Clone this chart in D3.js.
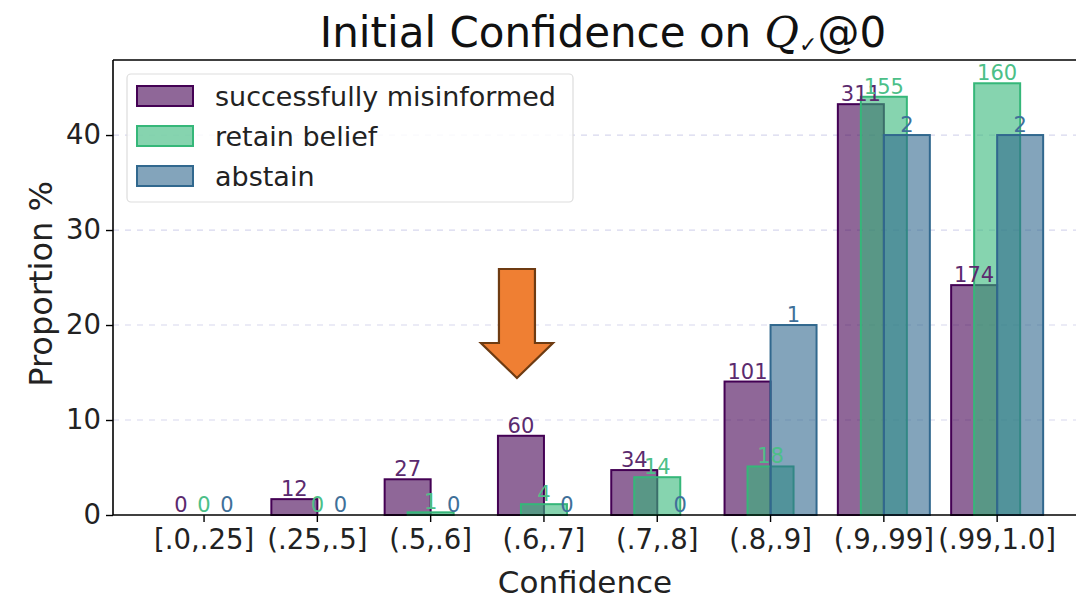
<!DOCTYPE html>
<html>
<head>
<meta charset="utf-8">
<script src="https://cdn.jsdelivr.net/npm/d3@7"></script>
<style>
  body { margin: 0; background: #fff; }
  svg { display: block; font-family: "DejaVu Sans", sans-serif; }
</style>
</head>
<body>
<div id="chart"></div>
<script>
// confidence buckets
const categories = ["[.0,.25]", "(.25,.5]", "(.5,.6]", "(.6,.7]", "(.7,.8]", "(.8,.9]", "(.9,.99]", "(.99,1.0]"];
const seriesNames = ["successfully misinformed", "retain belief", "abstain"];

// counts shown above the bars
const misinformedCounts = [0, 12, 27, 60, 34, 101, 311, 174];
const retainCounts = [0, 0, 1, 4, 14, 18, 155, 160];
const abstainCounts = [0, 0, 0, 0, 0, 1, 2, 2];

// proportion % (bar heights)
const misinformedPct = [0, 1.67, 3.76, 8.34, 4.73, 14.05, 43.25, 24.2];
const retainPct = [0, 0, 0.28, 1.14, 3.98, 5.11, 44.03, 45.45];
const abstainPct = [0, 0, 0, 0, 0, 20, 40, 40];

const yTicks = [0, 10, 20, 30, 40];

const width = 1076, height = 601;
const margin = { top: 60, left: 113, bottom: 86 };

const fills = ["rgba(68,1,84,0.6)", "rgba(53,183,121,0.6)", "rgba(49,104,142,0.6)"];
const strokes = ["#440154", "#35b779", "#31688e"];
const textColors = ["#5b2a6e", "#4cbf88", "#3f7099"];

const series = [
  { name: seriesNames[0], pct: misinformedPct, counts: misinformedCounts, offset: -0.5 },
  { name: seriesNames[1], pct: retainPct, counts: retainCounts, offset: 0 },
  { name: seriesNames[2], pct: abstainPct, counts: abstainCounts, offset: 0.5 }
];

const svg = d3.select("#chart").append("svg")
  .attr("width", width)
  .attr("height", height);

const x = d3.scaleBand()
  .domain(categories)
  .range([147.4, 1053.8]);

const y = d3.scaleLinear()
  .domain([0, 47.9])
  .range([height - margin.bottom, margin.top]);

const barW = 46;

// grid
svg.append("g")
  .selectAll("line")
  .data(yTicks.filter(d => d > 0))
  .join("line")
    .attr("x1", margin.left)
    .attr("x2", width)
    .attr("y1", d => y(d))
    .attr("y2", d => y(d))
    .attr("stroke", "#d8d8ee")
    .attr("stroke-width", 1.2)
    .attr("stroke-dasharray", "6,6");

// bars
series.forEach((s, i) => {
  svg.append("g")
    .selectAll("rect")
    .data(categories)
    .join("rect")
      .attr("x", c => x(c) + x.bandwidth() / 2 + s.offset * barW - barW / 2)
      .attr("y", (c, j) => y(s.pct[j]))
      .attr("width", barW)
      .attr("height", (c, j) => y(0) - y(s.pct[j]))
      .attr("fill", fills[i])
      .attr("stroke", strokes[i])
      .attr("stroke-width", 2);
});

// count labels
series.forEach((s, i) => {
  svg.append("g")
    .selectAll("text")
    .data(categories)
    .join("text")
      .attr("x", c => x(c) + x.bandwidth() / 2 + s.offset * barW)
      .attr("y", (c, j) => y(s.pct[j]) - 3)
      .attr("text-anchor", "middle")
      .attr("font-size", 21)
      .attr("fill", textColors[i])
      .text((c, j) => s.counts[j]);
});

// x axis
const xAxis = svg.append("g")
  .attr("transform", `translate(0,${y(0)})`)
  .call(d3.axisBottom(x).tickSize(7).tickSizeOuter(0));
xAxis.select(".domain").remove();
xAxis.append("line")
  .attr("x1", margin.left).attr("x2", width)
  .attr("stroke", "#000").attr("stroke-width", 1.6);
xAxis.selectAll(".tick line").attr("stroke", "#000").attr("stroke-width", 1.4);
xAxis.selectAll(".tick text")
  .attr("font-size", 27.5)
  .attr("font-family", "DejaVu Sans, sans-serif")
  .attr("fill", "#222")
  .attr("y", 13)
  .attr("dy", "0.76em");

// y axis
const yAxis = svg.append("g")
  .attr("transform", `translate(${margin.left},0)`)
  .call(d3.axisLeft(y).tickValues(yTicks).tickSize(7).tickSizeOuter(0));
yAxis.select(".domain").attr("stroke", "#000").attr("stroke-width", 1.6)
  .attr("d", `M0,${y(0)}V${margin.top}`);
yAxis.selectAll(".tick line").attr("stroke", "#000").attr("stroke-width", 1.4);
yAxis.selectAll(".tick text")
  .attr("font-size", 27.5)
  .attr("font-family", "DejaVu Sans, sans-serif")
  .attr("fill", "#222")
  .attr("x", -12);

// top spine
svg.append("line")
  .attr("x1", margin.left).attr("x2", width)
  .attr("y1", margin.top).attr("y2", margin.top)
  .attr("stroke", "#000").attr("stroke-width", 1.6);

// axis titles
svg.append("text")
  .attr("x", 585).attr("y", 593)
  .attr("text-anchor", "middle")
  .attr("font-size", 31)
  .attr("fill", "#222")
  .text("Confidence");

svg.append("text")
  .attr("transform", `translate(52,284) rotate(-90)`)
  .attr("text-anchor", "middle")
  .attr("font-size", 32)
  .attr("fill", "#222")
  .text("Proportion %");

// title
const title = svg.append("text")
  .attr("x", 603).attr("y", 47)
  .attr("text-anchor", "middle")
  .attr("font-size", 42)
  .attr("fill", "#111");
title.append("tspan").text("Initial Confidence on ");
title.append("tspan").attr("font-family", "DejaVu Serif, serif").attr("font-style", "italic").text("Q");
title.append("tspan").attr("font-size", 22).attr("dy", 5).text("✓");
title.append("tspan").attr("dy", -5).text("@0");

// legend
const legend = svg.append("g");
legend.append("rect")
  .attr("x", 127).attr("y", 74)
  .attr("width", 446).attr("height", 128)
  .attr("rx", 4)
  .attr("fill", "rgba(255,255,255,0.85)")
  .attr("stroke", "#ddd")
  .attr("stroke-width", 1.2);
seriesNames.forEach((name, i) => {
  const ry = 86 + i * 40;
  legend.append("rect")
    .attr("x", 137).attr("y", ry)
    .attr("width", 56).attr("height", 20)
    .attr("fill", fills[i])
    .attr("stroke", strokes[i])
    .attr("stroke-width", 2);
  legend.append("text")
    .attr("x", 215).attr("y", ry + 20)
    .attr("font-size", 27)
    .attr("fill", "#222")
    .text(name);
});

// orange arrow pointing at the (.6,.7] group
const ax = x(categories[3]) + x.bandwidth() / 2 - 27;
const arrow = d3.path();
arrow.moveTo(ax - 18, 269);
arrow.lineTo(ax + 18, 269);
arrow.lineTo(ax + 18, 343);
arrow.lineTo(ax + 36, 343);
arrow.lineTo(ax, 378);
arrow.lineTo(ax - 36, 343);
arrow.lineTo(ax - 18, 343);
arrow.closePath();
svg.append("path")
  .attr("d", arrow.toString())
  .attr("fill", "#ef7f33")
  .attr("stroke", "#6e3b12")
  .attr("stroke-width", 2.2);
</script>
</body>
</html>
